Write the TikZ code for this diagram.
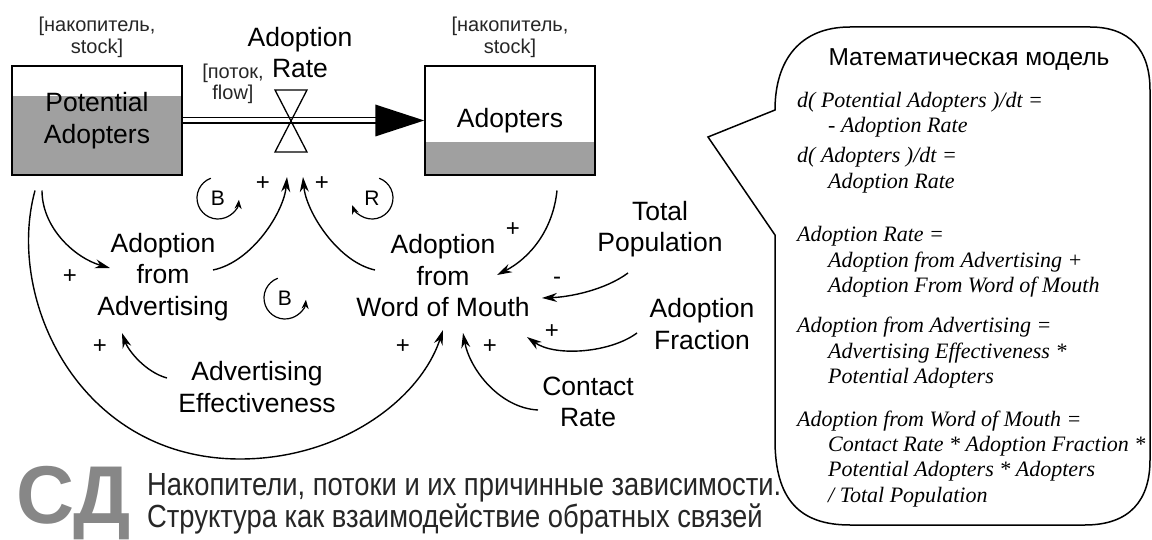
\documentclass[tikz,border=0pt]{standalone}
\usepackage{fontspec}
\setmainfont{Liberation Sans}
\newfontfamily\formfont{Liberation Serif}
\newfontfamily\narrowfont[FakeStretch=0.855]{Liberation Sans}
\newfontfamily\cdfont[FakeStretch=0.98]{Liberation Sans}
\usetikzlibrary{arrows.meta,calc,backgrounds}
\definecolor{stockgray}{RGB}{160,160,160}
\definecolor{cdgray}{RGB}{135,135,135}
\begin{document}
\begin{tikzpicture}[x=1pt,y=-1pt,
  lbl/.style={align=center, font=\fontsize{26.5}{31.5}\selectfont, inner sep=0pt},
  note/.style={align=center, font=\fontsize{20}{21.5}\selectfont, text=black!85, inner sep=0pt},
  stockbox/.style={draw, line width=1.5pt, minimum width=170pt, minimum height=109pt, inner sep=0pt, align=center, font=\fontsize{26.5}{31.5}\selectfont},
  link/.style={line width=1.4pt, -{Stealth[length=15pt,width=9pt]}},
  pol/.style={font=\fontsize{24}{24}\selectfont, inner sep=0pt},
  loopar/.style={line width=1.2pt, -{Stealth[length=9pt,width=7pt]}},
  looplbl/.style={font=\fontsize{21}{21}\selectfont, inner sep=0pt},
  pipe/.style={double, double distance=4pt, line width=1.3pt},
  valvestyle/.style={line width=1.3pt},
  callout/.style={draw, line width=1.5pt, fill=white},
  eq/.style={anchor=base west, font=\formfont\itshape\fontsize{22}{25}\selectfont, inner sep=0pt},
  sub/.style={anchor=base west, font=\narrowfont\fontsize{32}{32}\selectfont, inner sep=0pt, text=black!85},
]
\useasboundingbox (0,0) rectangle (1152,540);

% stocks
\node[stockbox] (pa) at (97,120.5) {Potential\\Adopters};
\node[stockbox] (ad) at (510,120.5) {Adopters};
\node[note] (pan) at (97,37.5) {[накопитель,\\stock]};
\node[note] (adn) at (510,37.5) {[накопитель,\\stock]};

\begin{scope}[on background layer]
  \fill[white] (0,0) rectangle (1152,540);
  \fill[stockgray] (pa.south west) rectangle ($(pa.north east)+(0,31)$);
  \fill[stockgray] (ad.south west) rectangle ($(ad.north east)+(0,77)$);
\end{scope}

% flow
\coordinate (v) at (291,121);
\draw[pipe] (pa.east) -- ($(ad.west)+(-48,0)$);
\fill ($(ad.west)+(-49,-16)$) -- (ad.west) -- ($(ad.west)+(-49,16)$) -- cycle;
\draw[valvestyle] ($(v)+(-16,-31)$) -- ($(v)+(16,-31)$) -- ($(v)+(-16,31)$) -- ($(v)+(16,31)$) -- cycle;
\node[lbl] (rate) at (300,52.5) {Adoption\\Rate};
\node[note] (flow) at (233,84) {[поток,\\flow]};

% auxiliaries
\node[lbl] (aa) at (163,277) {Adoption\\from\\Advertising};
\node[lbl] (wom) at (443,276) {Adoption\\from\\Word of Mouth};
\node[lbl] (ae) at (257,387) {Advertising\\Effectiveness};
\node[lbl] (tp) at (660,229) {Total\\Population};
\node[lbl] (af) at (702,324) {Adoption\\Fraction};
\node[lbl] (cr) at (588,402) {Contact\\Rate};

% links
\draw[link] ($(aa.center)+(50,-7)$) .. controls (252,262) and (284,212) .. ($(v)+(-4,56)$);
\draw[link] ($(wom.center)+(-68,-6)$) .. controls (338,262) and (306,212) .. ($(v)+(12,56)$);
\draw[link] ($(pa.center)+(-55,70)$) .. controls (42,228) and (75,258) .. ($(aa.center)+(-53,-9)$);
\draw[link] ($(pa.center)+(-62,70)$) .. controls (5,300) and (80,459) .. (240,459) .. controls (340,459) and (420,400) .. ($(wom.center)+(0,54)$);
\draw[link] ($(ae.center)+(-90,-9)$) .. controls (145,372) and (128,350) .. ($(aa.center)+(-41,56)$);
\draw[link] ($(ad.center)+(47,70)$) .. controls (553,230) and (530,258) .. ($(wom.center)+(54,-1)$);
\draw[link] ($(tp.center)+(-32,44)$) .. controls (605,290) and (570,297) .. ($(wom.center)+(99,22)$);
\draw[link] ($(af.center)+(-65,9)$) .. controls (610,353) and (555,357) .. ($(wom.center)+(84,61)$);
\draw[link] ($(cr.center)+(-50,8)$) .. controls (500,408) and (470,370) .. ($(wom.center)+(20,57)$);

% polarities
\node[pol] (s1) at (263,184) {+};
\node[pol] (s2) at (322,184) {+};
\node[pol] (s3) at (70,277) {+};
\node[pol] (s4) at (100,347) {+};
\node[pol] (s5) at (513,230) {+};
\node[pol] (s6) at (557,281) {-};
\node[pol] (s7) at (552,332) {+};
\node[pol] (s8) at (490,347) {+};
\node[pol] (s9) at (403,347) {+};

% loop markers
\node[looplbl] (b1) at (218,198) {B};
\draw[loopar] ($(b1)+(-110:21)$) arc[start angle=-110, end angle=-355, radius=21];
\node[looplbl] (r1) at (372,198) {R};
\draw[loopar] ($(r1)+(-70:21)$) arc[start angle=-70, end angle=160, radius=21];
\node[looplbl] (b2) at (285,298) {B};
\draw[loopar] ($(b2)+(-110:21)$) arc[start angle=-110, end angle=-355, radius=21];

% callout
\draw[callout] (775,110) -- (708,137) -- (775,235) -- (775,440) .. controls (775,500) and (800,525) .. (850,525) -- (1085,525) .. controls (1130,525) and (1150,500) .. (1150,460) -- (1150,90) .. controls (1150,50) and (1130,27) .. (1090,27) -- (850,27) .. controls (800,27) and (775,60) .. (775,110) -- cycle;
\node[font=\fontsize{24.5}{24.5}\selectfont, inner sep=0pt] (mtitle) at (969,60) {Математическая модель};
\node[eq] (m1) at (797,108) {d( Potential Adopters )/dt =};
\node[eq] (m2) at (828,133) {- Adoption Rate};
\node[eq] (m3) at (797,163) {d( Adopters )/dt =};
\node[eq] (m4) at (828,189) {Adoption Rate};
\node[eq] (m5) at (797,242) {Adoption Rate =};
\node[eq] (m6) at (828,268) {Adoption from Advertising +};
\node[eq] (m7) at (828,293) {Adoption From Word of Mouth};
\node[eq] (m8) at (797,333) {Adoption from Advertising =};
\node[eq] (m9) at (828,358) {Advertising Effectiveness *};
\node[eq] (m10) at (828,383) {Potential Adopters};
\node[eq] (m11) at (797,426) {Adoption from Word of Mouth =};
\node[eq] (m12) at (828,451) {Contact Rate * Adoption Fraction *};
\node[eq] (m13) at (828,476) {Potential Adopters * Adopters};
\node[eq] (m14) at (828,502) {/ Total Population};

% bottom caption
\node[anchor=base west, font=\cdfont\bfseries\fontsize{82}{82}\selectfont, text=cdgray, inner sep=0pt] (cd) at (16,523) {СД};
\node[sub] (sub1) at (147,495) {Накопители, потоки и их причинные зависимости.};
\node[sub] (sub2) at (147,527) {Структура как взаимодействие обратных связей};
\end{tikzpicture}
\end{document}
